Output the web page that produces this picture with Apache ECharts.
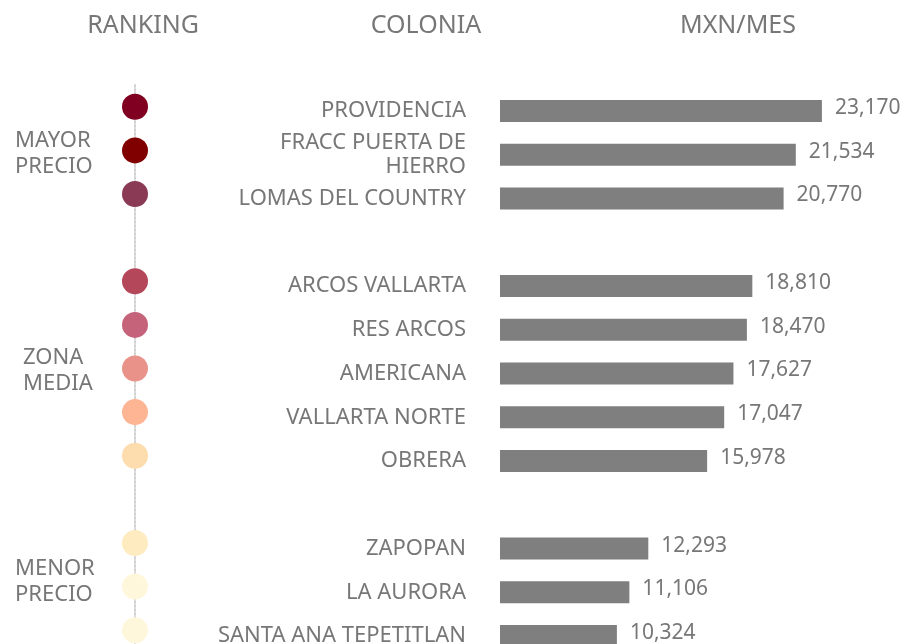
<!DOCTYPE html>
<html lang="es">
<head>
    <meta charset="UTF-8">
    <title>Ranking colonias</title>
    <script src="https://cdn.jsdelivr.net/npm/echarts@6/dist/echarts.min.js"></script>
    <style>
        * { margin: 0; padding: 0; }
        #main { width: 903px; height: 644px; background: #fff; }
    </style>
</head>
<body>
    <div id="main"></div>
    <script>
        // datos (los '' son huecos entre grupos)
        var colonias = ['PROVIDENCIA', 'FRACC PUERTA DE\nHIERRO', 'LOMAS DEL COUNTRY', '',
            'ARCOS VALLARTA', 'RES ARCOS', 'AMERICANA', 'VALLARTA NORTE', 'OBRERA', '',
            'ZAPOPAN', 'LA AURORA', 'SANTA ANA TEPETITLAN'];
        var precios = [23170, 21534, 20770, '-', 18810, 18470, 17627, 17047, 15978, '-', 12293, 11106, 10324];
        var coloresRanking = ['#7f0020', '#800000', '#8b3a55', null, '#b5475a', '#c4637a', '#e8928a',
            '#fdb593', '#fddcae', null, '#feebc0', '#fff7dc', '#fff7dc'];
        var grupos = ['MAYOR\nPRECIO', 'ZONA\nMEDIA', 'MENOR\nPRECIO'];
        var encabezados = ['RANKING', 'COLONIA', 'MXN/MES'];

        var fuente = 'Noto Sans';
        var gris = '#777';

        var puntos = [];
        for (var i = 0; i < colonias.length; i++) {
            if (coloresRanking[i]) {
                puntos.push({ value: [0, i], itemStyle: { color: coloresRanking[i] } });
            }
        }

        function texto(t, x, y, align, size) {
            return {
                type: 'text', x: x, y: y,
                style: { text: t, fill: gris, font: size + 'px ' + fuente, textAlign: align, lineHeight: 26 }
            };
        }

        var myChart = echarts.init(document.getElementById('main'));
        myChart.setOption({
            animation: false,
            textStyle: { fontFamily: fuente },
            graphic: [
                texto(encabezados[0], 143, 13, 'center', 25),
                texto(encabezados[1], 426, 13, 'center', 25),
                texto(encabezados[2], 738, 13, 'center', 25),
                texto(grupos[0], 15, 128, 'left', 22),
                texto(grupos[1], 23, 345, 'left', 22),
                texto(grupos[2], 15, 556, 'left', 22)
            ],
            grid: [
                { left: 500, top: 89, width: 399, height: 569, outerBoundsMode: 'none', containLabel: false },
                { left: 135, top: 85, width: 10, height: 567, outerBoundsMode: 'none', containLabel: false }
            ],
            xAxis: [
                { gridIndex: 0, type: 'value', min: 3000, max: 28000, show: false },
                { gridIndex: 1, type: 'value', min: 0, max: 1, show: false }
            ],
            yAxis: [
                {
                    gridIndex: 0, type: 'category', data: colonias, inverse: true,
                    axisLine: { show: false }, axisTick: { show: false },
                    axisLabel: { color: gris, fontSize: 22, margin: 34, lineHeight: 24, align: 'right' }
                },
                {
                    gridIndex: 1, type: 'category', data: colonias, inverse: true,
                    axisLine: { show: true, lineStyle: { color: '#d2d2d2', type: [2, 2], width: 2 } },
                    axisTick: { show: false }, axisLabel: { show: false }
                }
            ],
            series: [
                {
                    type: 'bar', xAxisIndex: 0, yAxisIndex: 0, data: precios,
                    barWidth: 22, itemStyle: { color: '#7f7f7f' },
                    label: {
                        show: true, position: 'right', distance: 13, color: gris, fontSize: 21,
                        offset: [0, -3],
                        formatter: function (p) { return p.value.toLocaleString('en-US'); }
                    }
                },
                {
                    type: 'scatter', xAxisIndex: 1, yAxisIndex: 1, data: puntos,
                    symbolSize: 26, z: 3, itemStyle: { opacity: 1 }
                }
            ]
        });
    </script>
</body>
</html>
